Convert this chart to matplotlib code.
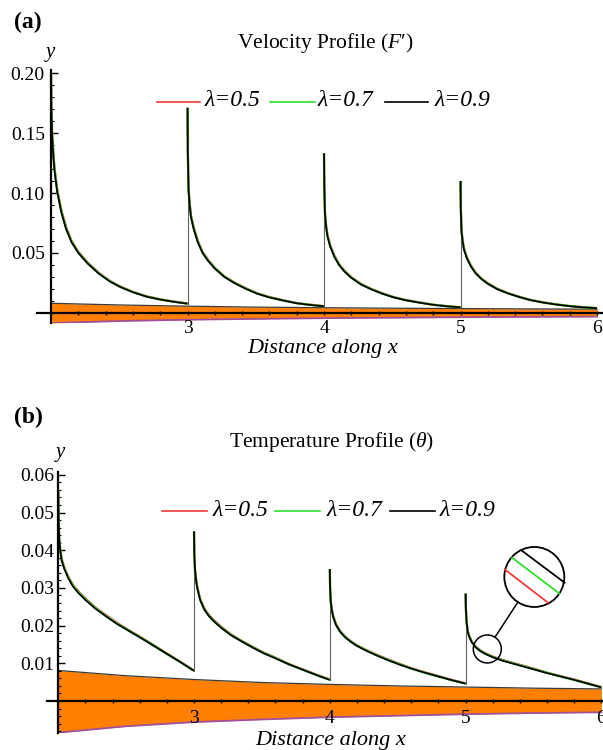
import matplotlib
matplotlib.use("Agg")
import matplotlib.pyplot as plt
import numpy as np
from matplotlib.lines import Line2D
from matplotlib.patches import Circle
from matplotlib.transforms import IdentityTransform
from matplotlib.ticker import MultipleLocator, FixedLocator

plt.rcParams['font.family'] = ['Liberation Serif', 'DejaVu Serif']
plt.rcParams['mathtext.fontset'] = 'custom'
plt.rcParams['mathtext.rm'] = 'Liberation Serif'
plt.rcParams['mathtext.it'] = 'Liberation Serif:italic'

# ---------------- data ----------------
seg_starts = [2.0, 3.0, 4.0, 5.0]
seg_offsets = [0, 0.002, 0.007, 0.015, 0.025, 0.045, 0.075, 0.11, 0.15, 0.2,
               0.27, 0.35, 0.43, 0.51, 0.6, 0.7, 0.8, 0.9, 1.0]
lam_labels = ['λ=0.5', 'λ=0.7', 'λ=0.9']

# Velocity profile F' (panel a)
vel_l05_s1 = [0.200, 0.171, 0.152, 0.136, 0.121, 0.103, 0.086, 0.0715, 0.0602, 0.0510, 0.0418, 0.0335, 0.0268, 0.0219, 0.0176, 0.0139, 0.0114, 0.0095, 0.0079]
vel_l07_s1 = [0.200, 0.1705, 0.151, 0.135, 0.120, 0.102, 0.085, 0.0707, 0.0596, 0.0505, 0.0414, 0.0331, 0.0266, 0.0217, 0.0175, 0.0137, 0.0113, 0.0094, 0.0078]
vel_l09_s1 = [0.200, 0.170, 0.150, 0.134, 0.119, 0.101, 0.084, 0.070, 0.059, 0.050, 0.041, 0.0328, 0.0263, 0.0215, 0.0173, 0.0136, 0.0112, 0.0093, 0.0078]
vel_l05_s2 = [0.171, 0.136, 0.105, 0.092, 0.0815, 0.0714, 0.0602, 0.051, 0.0444, 0.0377, 0.0306, 0.025, 0.0204, 0.0164, 0.0133, 0.0106, 0.0083, 0.0069, 0.0057]
vel_l07_s2 = [0.171, 0.1355, 0.104, 0.091, 0.0808, 0.0707, 0.0596, 0.0505, 0.0439, 0.0374, 0.0303, 0.0247, 0.0202, 0.0163, 0.0131, 0.0105, 0.0082, 0.0068, 0.0056]
vel_l09_s2 = [0.171, 0.135, 0.103, 0.090, 0.080, 0.070, 0.059, 0.050, 0.0435, 0.037, 0.030, 0.0245, 0.020, 0.0161, 0.0130, 0.0104, 0.0081, 0.0067, 0.0056]
vel_l05_s3 = [0.133, 0.106, 0.0835, 0.0735, 0.0653, 0.0566, 0.0479, 0.0408, 0.0352, 0.0299, 0.0243, 0.0199, 0.0163, 0.0133, 0.0108, 0.0088, 0.0069, 0.0057, 0.0048]
vel_l07_s3 = [0.133, 0.1055, 0.0828, 0.0727, 0.0646, 0.056, 0.0475, 0.0404, 0.0348, 0.0296, 0.024, 0.0197, 0.0161, 0.0131, 0.0107, 0.0087, 0.0069, 0.0057, 0.0047]
vel_l09_s3 = [0.133, 0.105, 0.082, 0.072, 0.064, 0.0555, 0.047, 0.040, 0.0345, 0.0293, 0.0238, 0.0195, 0.0160, 0.0130, 0.0106, 0.0086, 0.0068, 0.0056, 0.0047]
vel_l05_s4 = [0.110, 0.088, 0.0694, 0.0612, 0.0541, 0.0469, 0.0398, 0.0339, 0.0292, 0.0248, 0.0202, 0.0165, 0.0136, 0.0110, 0.0090, 0.0072, 0.0058, 0.0048, 0.0041]
vel_l07_s4 = [0.110, 0.0875, 0.0687, 0.0606, 0.0535, 0.0465, 0.0394, 0.0335, 0.0289, 0.0245, 0.0200, 0.0164, 0.0134, 0.0109, 0.0089, 0.0072, 0.0058, 0.0047, 0.0040]
vel_l09_s4 = [0.110, 0.087, 0.068, 0.060, 0.053, 0.046, 0.039, 0.0332, 0.0286, 0.0243, 0.0198, 0.0162, 0.0133, 0.0108, 0.0088, 0.0071, 0.0057, 0.0047, 0.0040]

# Temperature profile theta (panel b)
tmp_l05_s1 = [0.056, 0.0492, 0.0433, 0.0402, 0.0377, 0.0354, 0.0329, 0.0307, 0.0290, 0.0272, 0.0249, 0.0228, 0.0208, 0.0190, 0.0171, 0.0149, 0.0126, 0.0104, 0.0081]
tmp_l07_s1 = [0.056, 0.0491, 0.0432, 0.0400, 0.0375, 0.0352, 0.0327, 0.0305, 0.0288, 0.0270, 0.0248, 0.0226, 0.0206, 0.0189, 0.0170, 0.0148, 0.0125, 0.0103, 0.0080]
tmp_l09_s1 = [0.056, 0.0490, 0.0430, 0.0398, 0.0373, 0.0350, 0.0325, 0.0303, 0.0286, 0.0268, 0.0246, 0.0225, 0.0205, 0.0188, 0.0169, 0.0147, 0.0125, 0.0103, 0.0080]
tmp_l05_s2 = [0.045, 0.0392, 0.0351, 0.0323, 0.0301, 0.0271, 0.0246, 0.0228, 0.0213, 0.0197, 0.0177, 0.0160, 0.0144, 0.0129, 0.0115, 0.0098, 0.0084, 0.0070, 0.0057]
tmp_l07_s2 = [0.045, 0.0391, 0.0349, 0.0321, 0.0299, 0.0269, 0.0244, 0.0226, 0.0211, 0.0195, 0.0176, 0.0159, 0.0143, 0.0128, 0.0114, 0.0097, 0.0083, 0.0069, 0.0056]
tmp_l09_s2 = [0.045, 0.0390, 0.0348, 0.0320, 0.0298, 0.0268, 0.0243, 0.0225, 0.0210, 0.0194, 0.0175, 0.0158, 0.0142, 0.0127, 0.0113, 0.0097, 0.0083, 0.0069, 0.0056]
tmp_l05_s3 = [0.035, 0.0302, 0.0265, 0.0243, 0.0226, 0.0205, 0.0186, 0.0172, 0.0160, 0.0148, 0.0135, 0.0122, 0.0110, 0.0099, 0.0087, 0.0076, 0.0066, 0.0056, 0.0047]
tmp_l07_s3 = [0.035, 0.0301, 0.0263, 0.0241, 0.0224, 0.0203, 0.0185, 0.0171, 0.0159, 0.0147, 0.0134, 0.0121, 0.0109, 0.0098, 0.0086, 0.0075, 0.0065, 0.0055, 0.0046]
tmp_l09_s3 = [0.035, 0.0300, 0.0262, 0.0240, 0.0223, 0.0202, 0.0184, 0.0170, 0.0158, 0.0146, 0.0133, 0.0120, 0.0108, 0.0097, 0.0086, 0.0075, 0.0065, 0.0055, 0.0046]
tmp_l05_s4 = [0.0285, 0.0247, 0.0212, 0.0187, 0.0174, 0.0158, 0.0144, 0.0134, 0.0126, 0.0118, 0.0109, 0.0101, 0.0093, 0.0085, 0.0075, 0.0066, 0.0057, 0.0047, 0.0037]
tmp_l07_s4 = [0.0285, 0.0246, 0.0211, 0.0186, 0.0173, 0.0157, 0.0143, 0.0133, 0.0125, 0.0117, 0.0108, 0.0100, 0.0092, 0.0084, 0.0075, 0.0065, 0.0056, 0.0046, 0.0036]
tmp_l09_s4 = [0.0285, 0.0245, 0.0210, 0.0185, 0.0172, 0.0156, 0.0142, 0.0132, 0.0124, 0.0116, 0.0107, 0.0099, 0.0091, 0.0083, 0.0074, 0.0065, 0.0056, 0.0046, 0.0036]

# Plate (orange band)
band_x = [2.0, 2.5, 3.0, 3.5, 4.0, 4.5, 5.0, 5.5, 6.0]
band_top = [0.0081, 0.0067, 0.0057, 0.0049, 0.0044, 0.0040, 0.0037, 0.0034, 0.0032]
band_bot = [-0.0084, -0.0067, -0.0056, -0.0049, -0.0043, -0.0039, -0.0035, -0.0032, -0.0030]

vel_series = [[vel_l05_s1, vel_l05_s2, vel_l05_s3, vel_l05_s4],
              [vel_l07_s1, vel_l07_s2, vel_l07_s3, vel_l07_s4],
              [vel_l09_s1, vel_l09_s2, vel_l09_s3, vel_l09_s4]]
tmp_series = [[tmp_l05_s1, tmp_l05_s2, tmp_l05_s3, tmp_l05_s4],
              [tmp_l07_s1, tmp_l07_s2, tmp_l07_s3, tmp_l07_s4],
              [tmp_l09_s1, tmp_l09_s2, tmp_l09_s3, tmp_l09_s4]]

colors = ['#f23a3a', '#2ee02e', '#000000']
widths = [1.6, 1.6, 1.25]

W, H = 603, 750
fig = plt.figure(figsize=(W / 100, H / 100), dpi=100)


def fax(l, t, r, b):
    return fig.add_axes([l / W, (H - b) / H, (r - l) / W, (b - t) / H])


axA = fax(37.4, 70.0, 603, 323.2)
axA.set_xlim(1.9, 6.044)
axA.set_ylim(-0.0085, 0.2025)
axB = fax(46.7, 472.2, 603, 733.4)
axB.set_xlim(1.915, 6.012)
axB.set_ylim(-0.0086, 0.0607)


def draw_panel(ax, series, yticks, ylabels, yminor, ypad, xpad):
    ax.fill_between(band_x, band_bot, band_top, color='#ff8000', lw=0, zorder=1)
    ax.plot(band_x, band_top, color='#3a3a3a', lw=0.9, zorder=1.5)
    ax.plot(band_x, band_bot, color='#a0509a', lw=1.3, zorder=1.5)
    # thin connectors at the discontinuities
    black = series[2]
    for k in range(1, 4):
        ax.plot([seg_starts[k], seg_starts[k]], [black[k - 1][-1], black[k][0]],
                color='#606060', lw=0.8, zorder=2.8)
    for s, c, w in zip(series, colors, widths):
        for k in range(4):
            xs = [seg_starts[k] + o for o in seg_offsets]
            ax.plot(xs, s[k], color=c, lw=w, zorder=3, solid_capstyle='butt')
    for side in ['top', 'right']:
        ax.spines[side].set_visible(False)
    ax.spines['left'].set_position(('data', 2.0))
    ax.spines['bottom'].set_position(('data', 0.0))
    ax.spines['left'].set_linewidth(1.6)
    ax.spines['bottom'].set_linewidth(1.6)
    ax.spines['left'].set_zorder(4)
    ax.spines['bottom'].set_zorder(4)
    ax.xaxis.set_major_locator(FixedLocator([3, 4, 5, 6]))
    ax.set_xticklabels(['3', '4', '5', '6'])
    ax.xaxis.set_minor_locator(MultipleLocator(0.2))
    ax.yaxis.set_major_locator(FixedLocator(yticks))
    ax.set_yticklabels(ylabels)
    ax.yaxis.set_minor_locator(MultipleLocator(yminor))
    ax.tick_params(axis='x', which='major', direction='inout', length=3.5, width=1.0,
                   labelsize=14, pad=xpad)
    ax.tick_params(axis='x', which='minor', direction='inout', length=2.5, width=1.0)
    ax.tick_params(axis='y', which='major', direction='in', length=5, width=1.0,
                   labelsize=14, pad=ypad)
    ax.tick_params(axis='y', which='minor', direction='in', length=2.5, width=0.8)
    ax.patch.set_alpha(0)


draw_panel(axA, vel_series, [0.05, 0.10, 0.15, 0.20], ['0.05', '0.10', '0.15', '0.20'], 0.01, 4.5, 3.5)
draw_panel(axB, tmp_series, [0.01, 0.02, 0.03, 0.04, 0.05, 0.06],
           ['0.01', '0.02', '0.03', '0.04', '0.05', '0.06'], 0.002, 3, 5)

# ---------------- text ----------------
def ftext(x, y, s, **kw):
    fig.text(x / W, (H - y) / H, s, **kw)


ftext(28, 22, '(a)', fontsize=17, fontweight='bold', ha='center', va='center')
ftext(28, 417, '(b)', fontsize=17, fontweight='bold', ha='center', va='center')
ftext(325, 43, "Velocity Profile ($F$′)", fontsize=15.5, ha='center', va='center')
ftext(332, 442, r"Temperature Profile ($\theta$)", fontsize=15.5, ha='center', va='center')
ftext(50, 53, 'y', fontsize=15, style='italic', ha='center', va='center')
ftext(60, 452, 'y', fontsize=15, style='italic', ha='center', va='center')
ftext(323, 348, 'Distance along x', fontsize=16, style='italic', ha='center', va='center')
ftext(331, 740, 'Distance along x', fontsize=16, style='italic', ha='center', va='center')

# legends
legA = [(157, 200, 205), (270, 315, 318), (385, 428, 435)]
legB = [(162, 207, 213), (275, 320, 327), (390, 435, 440)]
for leg, yy in [(legA, 102), (legB, 511)]:
    for (x0, x1, xt), c, lab in zip(leg, colors, lam_labels):
        fig.add_artist(Line2D([x0, x1], [H - yy, H - yy], color=c, lw=1.2,
                              transform=IdentityTransform()))
        ftext(xt, yy - 1, lab, fontsize=17, style='italic', ha='left', va='center')

# ---------------- magnifier on panel (b) ----------------
fig.canvas.draw()
sc = axB.transData.transform((5.16, 0.0138))
small_r = 14
big_c = (sc[0] + 47, sc[1] + 72)
big_r = 30
fig.add_artist(Circle(sc, small_r, transform=IdentityTransform(), fill=False,
                      edgecolor='black', lw=1.1, zorder=10))
fig.add_artist(Circle(big_c, big_r, transform=IdentityTransform(), facecolor='white',
                      edgecolor='black', lw=1.3, zorder=10))
d = np.array(big_c) - np.array(sc)
u = d / np.hypot(*d)
p0 = np.array(sc) + u * small_r
p1 = np.array(big_c) - u * big_r
fig.add_artist(Line2D([p0[0], p1[0]], [p0[1], p1[1]], color='black', lw=1.1,
                      transform=IdentityTransform(), zorder=10))
chords = [((-29.7, 7.7), (13.7, -25.7), colors[0]),
          ((-22.3, 19.3), (25.3, -16.7), colors[1]),
          ((-13.0, 26.7), (30.3, -5.7), colors[2])]
for a, b, c in chords:
    fig.add_artist(Line2D([big_c[0] + a[0], big_c[0] + b[0]], [big_c[1] + a[1], big_c[1] + b[1]],
                          color=c, lw=1.3, transform=IdentityTransform(), zorder=11))

fig.savefig('out.png', dpi=100)
